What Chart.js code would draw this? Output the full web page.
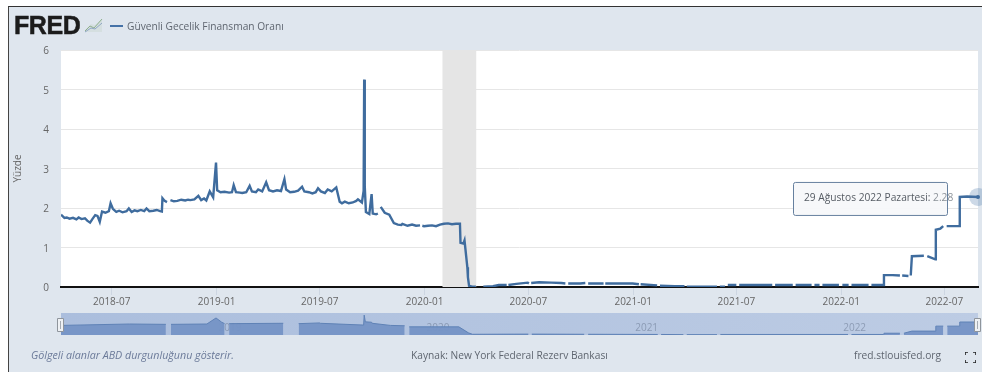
<!DOCTYPE html>
<html lang="tr"><head><meta charset="utf-8"><title>FRED</title>
<style>
html,body{margin:0;padding:0;background:#fff;width:982px;height:372px;overflow:hidden}
#frame{position:absolute;left:8px;top:6px;right:0;bottom:0;background:#dfe6ee;border-left:1.5px solid #444;border-top:1.5px solid #333}
canvas{position:absolute}
.t{position:absolute;font-family:"Open Sans",sans-serif;font-size:10.2px;color:#5f6670;white-space:nowrap;line-height:14px}
#logo{position:absolute;left:14px;top:11px;font:bold 25px/28px "Liberation Sans",sans-serif;letter-spacing:-.4px;color:#1c1c1c;-webkit-text-stroke:.5px #1c1c1c}
svg{position:absolute}
</style></head><body>
<div id="frame"></div>
<canvas id="main" width="982" height="372" style="left:0;top:0;width:982px;height:372px"></canvas>
<canvas id="nav" width="982" height="35" style="left:0;top:305px;width:982px;height:35px"></canvas>
<div id="logo">FRED</div>
<svg style="left:84px;top:16px" width="20" height="18"><path d="M1 16 L18 16 L18 3 L11 9 L7 8 L1 14Z" fill="#d5dfe0"/><polyline points="1,15 6,10 10,12 18,3" fill="none" stroke="#8fb08f" stroke-width="1"/><polyline points="1,16 7,12 11,13 18,7" fill="none" stroke="#8fa6c4" stroke-width="1"/></svg>
<svg style="left:110px;top:25px" width="13" height="3"><rect width="13" height="2" fill="#4572a7"/></svg>
<div class="t" id="legend" style="left:127px;top:19px"></div>
<div class="t" id="note" style="left:31px;top:348px;font-style:italic;font-size:10.7px;color:#6b7a99"></div>
<div class="t" id="src" style="left:411px;top:348px"></div>
<div class="t" id="site" style="left:854px;top:348px"></div>
<svg style="left:965px;top:352px" width="11" height="11"><path d="M0 3V0H3M8 0H11V3M11 8V11H8M3 11H0V8" fill="none" stroke="#222" stroke-width="1.6"/></svg>
<script src="https://cdn.jsdelivr.net/npm/chart.js@4"></script>
<script>
const seriesName = "Güvenli Gecelik Finansman Oranı";
const noteText = "Gölgeli alanlar ABD durgunluğunu gösterir.";
const sourceText = "Kaynak: New York Federal Rezerv Bankası";
const siteText = "fred.stlouisfed.org";
const yAxisTitle = "Yüzde";
const tooltipLabel = "29 Ağustos 2022 Pazartesi: ";
const tooltipValue = "2.28";
const yTicks = [0,1,2,3,4,5,6];
const xTickDates = ["2018-07-01","2019-01-01","2019-07-01","2020-01-01","2020-07-01","2021-01-01","2021-07-01","2022-01-01","2022-07-01"];
const xRange = ["2018-04-03","2022-08-29"];
const recession = ["2020-02-01","2020-04-01"];
const navYears = ["2019-01-01","2020-01-01","2021-01-01","2022-01-01"];

const dates2018 = ["2018-04-03","2018-04-09","2018-04-13","2018-04-18","2018-04-24","2018-04-30","2018-05-04","2018-05-09","2018-05-15","2018-05-19","2018-05-24","2018-05-28","2018-06-02","2018-06-06","2018-06-10","2018-06-14","2018-06-20","2018-06-26","2018-06-29","2018-07-03","2018-07-09","2018-07-14","2018-07-20","2018-07-27","2018-07-31","2018-08-05","2018-08-10","2018-08-15","2018-08-21","2018-08-27","2018-08-31","2018-09-05","2018-09-12","2018-09-18","2018-09-24","2018-09-27","2018-09-28","2018-10-02","2018-10-06","2018-10-08","2018-10-12","2018-10-18","2018-10-24","2018-10-31","2018-11-07","2018-11-12","2018-11-16","2018-11-23","2018-11-30","2018-12-05","2018-12-10","2018-12-14","2018-12-20","2018-12-26","2018-12-31"];
const rates2018 = [1.83,1.75,1.76,1.73,1.75,1.71,1.76,1.72,1.74,1.68,1.63,1.72,1.82,1.80,1.65,1.91,1.88,1.92,2.12,1.98,1.90,1.93,1.89,1.92,1.99,1.90,1.94,1.92,1.95,1.92,1.99,1.92,1.93,1.95,1.92,1.91,2.25,2.18,2.15,null,2.20,2.17,2.18,2.21,2.19,2.21,2.20,2.22,2.31,2.20,2.24,2.19,2.42,2.27,3.15];

const dates2019 = ["2019-01-02","2019-01-08","2019-01-15","2019-01-23","2019-01-28","2019-01-31","2019-02-04","2019-02-11","2019-02-15","2019-02-22","2019-02-28","2019-03-04","2019-03-11","2019-03-15","2019-03-22","2019-03-29","2019-04-03","2019-04-10","2019-04-17","2019-04-24","2019-04-30","2019-05-03","2019-05-10","2019-05-17","2019-05-24","2019-05-31","2019-06-04","2019-06-12","2019-06-18","2019-06-24","2019-06-28","2019-07-03","2019-07-10","2019-07-15","2019-07-22","2019-07-30","2019-08-05","2019-08-09","2019-08-14","2019-08-21","2019-08-28","2019-09-03","2019-09-06","2019-09-13","2019-09-16","2019-09-17","2019-09-18","2019-09-20","2019-09-26","2019-09-30","2019-10-02","2019-10-08","2019-10-11","2019-10-13","2019-10-16","2019-10-23","2019-10-31","2019-11-08","2019-11-15","2019-11-21","2019-11-23","2019-12-02","2019-12-10","2019-12-17","2019-12-24","2019-12-26","2019-12-28","2019-12-31"];
const rates2019 = [2.45,2.40,2.41,2.39,2.40,2.58,2.40,2.39,2.38,2.40,2.56,2.42,2.40,2.47,2.42,2.65,2.45,2.42,2.45,2.43,2.73,2.47,2.40,2.41,2.44,2.54,2.42,2.40,2.37,2.40,2.50,2.42,2.38,2.47,2.42,2.52,2.16,2.12,2.16,2.12,2.14,2.18,2.22,2.14,2.43,5.25,2.55,1.90,1.85,2.35,1.86,1.84,1.86,null,2.03,1.88,1.83,1.62,1.58,1.57,1.60,1.55,1.58,1.55,1.56,null,1.55,1.54];

const datesEarly2020 = ["2020-01-07","2020-01-14","2020-01-21","2020-01-28","2020-02-04","2020-02-11","2020-02-18","2020-02-25","2020-03-03","2020-03-04","2020-03-09","2020-03-11","2020-03-16","2020-03-17","2020-03-19","2020-03-25","2020-03-31","2020-04-01"];
const ratesEarly2020 = [1.55,1.56,1.54,1.58,1.60,1.61,1.59,1.60,1.60,1.12,1.10,1.18,0.50,0.25,0.03,0.01,0.01,null];

const datesZero = ["2020-04-13","2020-04-30","2020-05-10","2020-05-24","2020-05-25","2020-05-27","2020-06-10","2020-06-30","2020-07-02","2020-07-03","2020-07-06","2020-07-20","2020-08-10","2020-08-28","2020-09-04","2020-09-07","2020-09-09","2020-09-30","2020-10-09","2020-10-12","2020-10-14","2020-11-10","2020-11-11","2020-11-13","2020-12-10","2020-12-31","2021-01-11","2021-01-12","2021-01-14","2021-02-12","2021-02-15","2021-02-17","2021-03-15","2021-04-01","2021-04-02","2021-04-05","2021-05-01","2021-05-28","2021-05-31","2021-06-02","2021-06-11","2021-06-13","2021-06-16","2021-07-01","2021-07-03","2021-07-06","2021-08-10","2021-09-02","2021-09-05","2021-09-07","2021-10-08","2021-10-11","2021-10-13","2021-11-10","2021-11-11","2021-11-15","2021-11-24","2021-11-25","2021-11-29","2021-12-28","2021-12-31","2022-01-03","2022-01-14","2022-01-17","2022-01-19","2022-02-18","2022-02-21","2022-02-23","2022-03-16"];
const ratesZero = [0.01,0.02,0.05,0.05,null,0.05,0.08,0.11,0.09,null,0.10,0.12,0.11,0.10,0.09,null,0.09,0.09,0.10,null,0.09,0.09,null,0.09,0.09,0.09,0.07,null,0.07,0.04,null,0.03,0.02,0.02,null,0.01,0.01,0.01,null,0.01,0.01,null,0.05,0.05,null,0.05,0.05,0.05,null,0.05,0.05,null,0.05,0.05,null,0.05,0.05,null,0.05,0.05,null,0.05,0.05,null,0.05,0.05,null,0.05,0.05];

const datesHikes = ["2022-03-17","2022-04-01","2022-04-14","2022-04-15","2022-04-18","2022-04-29","2022-05-01","2022-05-03","2022-05-05","2022-05-26","2022-05-28","2022-06-01","2022-06-15","2022-06-16","2022-06-24","2022-06-29","2022-07-01","2022-07-05","2022-07-27","2022-07-28","2022-08-10","2022-08-29"];
const ratesHikes = [0.30,0.30,0.29,null,0.29,0.28,null,0.29,0.78,0.79,null,0.78,0.70,1.45,1.48,1.54,null,1.54,1.54,2.28,2.29,2.28];

const navDates = ["2018-04-03","2018-08-01","2018-10-04","2018-10-05","2018-10-12","2018-10-13","2018-12-15","2018-12-31","2019-01-10","2019-01-15","2019-01-16","2019-01-22","2019-01-23","2019-04-28","2019-04-29","2019-05-24","2019-05-25","2019-07-01","2019-07-02","2019-09-16","2019-09-17","2019-09-19","2019-09-30","2019-10-01","2019-11-02","2019-11-27","2019-11-28","2019-12-04","2019-12-05","2020-03-01","2020-03-18","2020-03-25","2020-07-01","2020-07-02","2020-07-06","2020-07-07","2020-10-07","2020-10-08","2020-10-13","2020-10-14","2021-02-13","2021-02-14","2021-02-18","2021-02-19","2021-03-30","2021-03-31","2021-04-04","2021-04-05","2021-05-28","2021-05-29","2021-06-02","2021-06-03","2022-01-13","2022-01-14","2022-01-18","2022-01-19","2022-03-16","2022-03-17","2022-04-14","2022-04-15","2022-04-20","2022-04-21","2022-05-05","2022-06-15","2022-06-16","2022-06-29","2022-06-30","2022-07-05","2022-07-06","2022-07-27","2022-07-28","2022-08-29"];
const navHeights = [2.7,3.1,3.0,null,null,3.0,3.1,4.8,3.6,3.2,null,null,3.2,3.3,null,null,3.2,3.4,3.3,2.8,5.6,3.7,3.6,3.3,2.7,2.6,null,null,2.3,2.3,0.6,0.2,0.25,null,null,0.25,0.2,null,null,0.2,0.15,null,null,0.15,0.1,null,null,0.1,0.1,null,null,0.15,0.15,null,null,0.15,0.15,0.5,0.5,null,null,0.5,1.1,1.1,2.5,2.5,null,null,2.5,2.5,3.66,3.66];

const dates = [...dates2018,...dates2019,...datesEarly2020,...datesZero,...datesHikes];
const rates = [...rates2018,...rates2019,...ratesEarly2020,...ratesZero,...ratesHikes];
const day = s => Date.parse(s + "T00:00:00Z");
const points = dates.map((d,i)=>({x:day(d),y:rates[i]}));
const navPoints = navDates.map((d,i)=>({x:day(d),y:navHeights[i]}));
const xMin = day(xRange[0]), xMax = day(xRange[1]);
const FONT = '"Open Sans", sans-serif';

document.getElementById('legend').textContent = seriesName;
document.getElementById('note').textContent = noteText;
document.getElementById('src').textContent = sourceText;
document.getElementById('site').textContent = siteText;

const plotBg = {id:'plotBg',beforeDraw(c){const a=c.chartArea,g=c.ctx;g.save();g.fillStyle='#fff';g.fillRect(a.left,a.top,a.width,a.height);g.restore();}};
const lastMarker = {id:'lastMarker',afterDraw(c){
  const g=c.ctx, last=points[points.length-1];
  const px=c.scales.x.getPixelForValue(last.x), py=c.scales.y.getPixelForValue(last.y);
  g.save();
  g.fillStyle='rgba(69,114,167,.27)';g.beginPath();g.arc(px,py,9,0,7);g.fill();
  g.fillStyle='#3f6c9e';g.beginPath();g.arc(px,py,2,0,7);g.fill();
  const bx=px-185,by=py-15,bw=154,bh=33;
  g.fillStyle='rgba(247,248,250,.95)';g.strokeStyle='#66809f';g.lineWidth=1;
  g.beginPath();g.roundRect(bx+.5,by+.5,bw,bh,2);g.fill();g.stroke();
  g.font='10.2px '+FONT;g.textBaseline='middle';g.textAlign='left';
  g.fillStyle='#555b63';g.fillText(tooltipLabel,bx+11,by+16.5);
  const w=g.measureText(tooltipLabel).width;
  g.fillStyle='#8b9198';g.fillText(tooltipValue,bx+11+w,by+16.5);
  g.restore();
}};

new Chart(document.getElementById('main'),{
  type:'line',
  data:{datasets:[
    {data:[{x:day(recession[0]),y:6},{x:day(recession[1]),y:6}],borderWidth:0,pointRadius:0,backgroundColor:'#e5e5e5',fill:'origin',order:2},
    {data:points,borderColor:'#3f6c9e',borderWidth:2.4,pointRadius:0,tension:0,fill:false,spanGaps:false,order:1,borderJoinStyle:'miter'}
  ]},
  options:{
    responsive:false,animation:false,devicePixelRatio:1,
    layout:{padding:{left:12,right:4,top:50,bottom:0}},
    plugins:{legend:{display:false},tooltip:{enabled:false},title:{display:false}},
    scales:{
      x:{type:'linear',min:xMin,max:xMax,
        afterBuildTicks(s){s.ticks=xTickDates.map(d=>({value:day(d)}));},
        afterFit(s){s.height=85;},
        grid:{drawOnChartArea:false,drawTicks:true,tickLength:8,color:'#cdd6e2'},
        border:{color:'#111',width:2},
        ticks:{autoSkip:false,maxRotation:0,padding:1,color:'#666',font:{family:FONT,size:10},
          callback(v){return new Date(v).toISOString().slice(0,7);}}
      },
      y:{min:0,max:6,
        afterBuildTicks(s){s.ticks=yTicks.map(v=>({value:v}));},
        afterFit(s){s.width=49;},
        grid:{color:'#e6e6e6',drawTicks:false},
        border:{display:false},
        title:{display:true,text:yAxisTitle,color:'#666',font:{family:FONT,size:10},padding:0},
        ticks:{padding:12,labelOffset:1.5,color:'#666',font:{family:FONT,size:10}}
      }
    }
  },
  plugins:[plotBg,lastMarker]
});

const navDecor = {id:'navDecor',
  beforeDraw(c){const a=c.chartArea,g=c.ctx;g.save();
    const gr=g.createLinearGradient(a.left,0,a.right,0);gr.addColorStop(0,'#abbedd');gr.addColorStop(1,'#bdcce4');
    g.fillStyle=gr;g.fillRect(a.left,a.top,a.width,a.height);
    g.restore();},
  beforeDatasetsDraw(c){const a=c.chartArea,g=c.ctx;g.save();
    g.font='10px '+FONT;g.fillStyle='rgba(110,125,150,.6)';g.textBaseline='middle';
    navYears.forEach(y=>g.fillText(y.slice(0,4),c.scales.x.getPixelForValue(day(y))+2,a.top+15));
    g.restore();},
  afterDraw(c){const a=c.chartArea,g=c.ctx;g.save();
    [a.left,a.right].forEach(x=>{g.fillStyle='#eef1f4';g.strokeStyle='#8f959c';g.lineWidth=1;
      g.beginPath();g.rect(Math.round(x)-3.5,a.top+5.5,6,13);g.fill();g.stroke();
      g.strokeStyle='#a5abb3';g.beginPath();g.moveTo(Math.round(x)-.5,a.top+8);g.lineTo(Math.round(x)-.5,a.top+16);g.stroke();});
    g.restore();}
};
new Chart(document.getElementById('nav'),{
  type:'line',
  data:{datasets:[{data:navPoints,borderColor:'#5f82b6',borderWidth:1,pointRadius:0,tension:0,backgroundColor:'rgba(118,148,198,.96)',fill:'origin',spanGaps:false}]},
  options:{
    responsive:false,animation:false,devicePixelRatio:1,
    layout:{padding:{left:61,right:4,top:8,bottom:5}},
    plugins:{legend:{display:false},tooltip:{enabled:false}},
    scales:{x:{type:'linear',display:false,min:xMin,max:xMax},y:{display:false,min:0,max:6.2}}
  },
  plugins:[navDecor]
});
</script>
</body></html>
